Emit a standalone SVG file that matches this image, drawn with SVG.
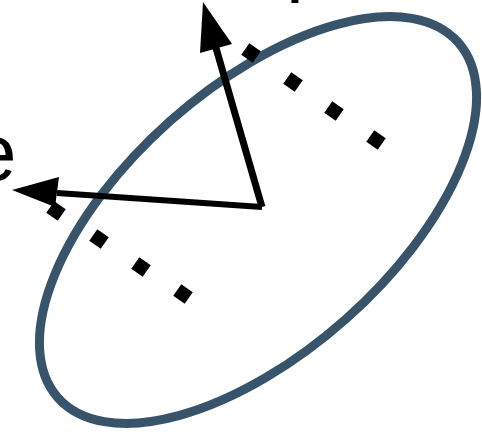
<svg xmlns="http://www.w3.org/2000/svg" width="482" height="432" viewBox="0 0 482 432">
  <style>
    .ell { fill: none; stroke: #38546b; stroke-width: 9; }
    .dot { fill: #000; }
    .ax { stroke: #000; stroke-width: 6; fill: none; stroke-linecap: butt; }
    .head { fill: #000; }
    .lbl { font-family: "Liberation Sans", Arial, sans-serif; font-size: 80px; fill: #000; }
  </style>
  <defs>
    <rect id="d" x="-7" y="-7" width="14" height="14" class="dot"/>
  </defs>
  <rect width="482" height="432" fill="#fff"/>
  <g id="ellipse">
    <ellipse class="ell" cx="258" cy="220" rx="267.6" ry="132.4" transform="rotate(-41.6 258 220)"/>
  </g>
  <g id="dots">
    <use href="#d" transform="translate(251 53) rotate(35)"/>
    <use href="#d" transform="translate(293 82) rotate(35)"/>
    <use href="#d" transform="translate(334 111) rotate(35)"/>
    <use href="#d" transform="translate(376 140) rotate(35)"/>
    <use href="#d" transform="translate(56 211) rotate(35)"/>
    <use href="#d" transform="translate(99 239) rotate(35)"/>
    <use href="#d" transform="translate(141 267) rotate(35)"/>
    <use href="#d" transform="translate(183 294) rotate(35)"/>
  </g>
  <g id="connectors">
    <path class="ax" d="M262 207 L216 48" style="stroke-width:7"/>
    <polygon class="head" points="203,2 232,44 200,53"/>
    <path class="ax" d="M262 207 L57 193"/>
    <polygon class="head" points="12,190 59,177 55,207"/>
  </g>
  <g id="labels">
    <text class="lbl" x="-28" y="180">e</text>
    <text class="lbl" x="286" y="-14">p</text>
  </g>
</svg>
